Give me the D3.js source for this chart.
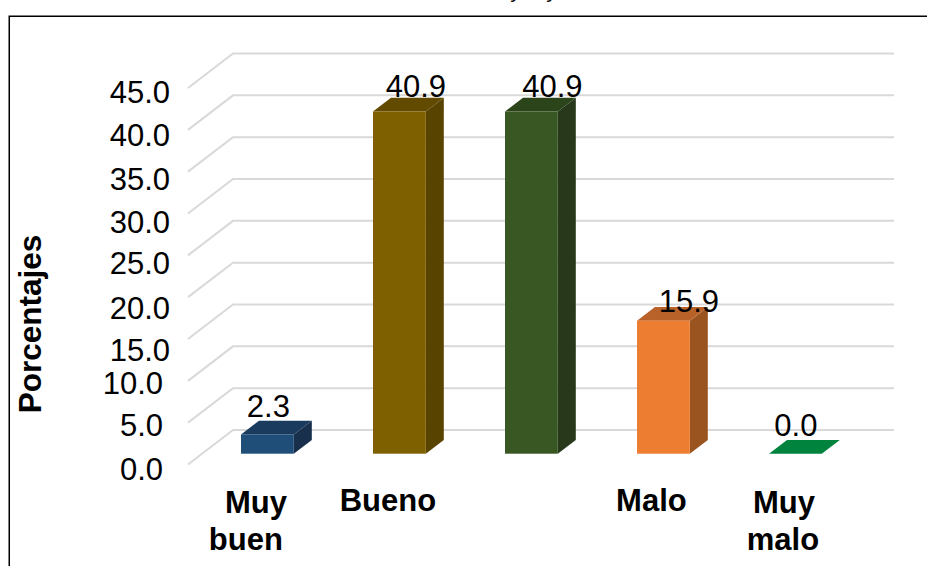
<!DOCTYPE html>
<html>
<head>
<meta charset="utf-8">
<script src="https://cdn.jsdelivr.net/npm/d3@7"></script>
<style>
html,body{margin:0;padding:0;background:#fff;overflow:hidden}
svg{display:block}
text{font-family:"Liberation Sans",Arial,sans-serif;fill:#000}
</style>
</head>
<body>
<svg id="chart" width="927" height="566"></svg>
<script>
const categories = ["Muy buen", "Bueno", "", "Malo", "Muy malo"];
const values = [2.3, 40.9, 40.9, 15.9, 0.0];
const valueLabels = ["2.3", "40.9", "40.9", "15.9", "0.0"];
const tickValues = [0, 5, 10, 15, 20, 25, 30, 35, 40, 45];
const frontColors = ["#1f4e79", "#7f6000", "#385723", "#ed7d31", "#00843d"];
const topColors = ["#1a3b5e", "#624a00", "#2c4419", "#b8622a", "#00843d"];
const sideColors = ["#18304c", "#584300", "#27391a", "#9a5420", "#00843d"];
const yAxisTitle = "Porcentajes";

// Hand-placed offsets seen in the reference
const tickNudgeY = [0, -1.6, -2.4, 6.7, 6.2, 3.3, 4.1, 2.7, 1, 0];
const tickRight = [163, 163, 163, 170, 170, 170, 170, 170, 170, 170];
const valueNudgeX = [1, 16.5, 21, 25.5, 0.5];
const valueBaselineGap = [17.7, 14.2, 14.2, 8.7, 17.7];
const catLineNudgeX = [[-11.5, -21.5], [-11.5], [0], [-12], [-11.5, -12.5]];
const catFirstBaseline = [513.3, 510.7, 510.7, 510.7, 513.3];

const svg = d3.select("#chart");

const x = d3.scaleBand().domain(d3.range(categories.length))
  .range([201.4, 861.4]).paddingInner(0.6).paddingOuter(0.3);
const yBack = d3.scaleLinear().domain([0, 45]).range([430, 53.5]);
const wallDx = 45, wallDy = 34.5, floorGap = 23.7, depthDx = 18, depthDy = 13.7;
const wallX = 233, wallRight = 894;
const yFront = v => yBack(v) + wallDy;
const yBar = v => yBack(v) + floorGap;

// Frame
svg.append("rect").attr("x", 9.25).attr("y", 16.25).attr("width", 1000).attr("height", 1000)
  .attr("fill", "none").attr("stroke", "#000").attr("stroke-width", 1.5);

// Clipped remains of a title above the frame
svg.selectAll("text.cut").data(["y", "y"]).join("text").attr("class", "cut")
  .attr("x", (d, i) => 512 + i * 36).attr("y", -2)
  .attr("font-size", 20).attr("font-style", "italic").text(d => d);

// Gridlines
const grid = svg.append("g").attr("fill", "none").attr("stroke", "#d9d9d9").attr("stroke-width", 2);
grid.selectAll("path").data(tickValues).join("path")
  .attr("d", d => d3.line()([[wallX - wallDx, yFront(d)], [wallX, yBack(d)], [wallRight, yBack(d)]]));

// Bars
const bars = svg.append("g").selectAll("g").data(values).join("g");
const poly = (pts) => pts.map(p => p.join(",")).join(" ");
bars.append("polygon").attr("fill", (d, i) => sideColors[i]).attr("points", (d, i) => {
  const r = x(i) + x.bandwidth(), t = yBar(d), b = yBar(0);
  return poly([[r, t], [r + depthDx, t - depthDy], [r + depthDx, b - depthDy], [r, b]]);
});
bars.append("polygon").attr("fill", (d, i) => topColors[i]).attr("points", (d, i) => {
  const l = x(i), r = l + x.bandwidth(), t = yBar(d);
  return poly([[l, t], [r, t], [r + depthDx, t - depthDy], [l + depthDx, t - depthDy]]);
});
bars.append("rect").attr("fill", (d, i) => frontColors[i])
  .attr("x", (d, i) => x(i)).attr("width", x.bandwidth())
  .attr("y", d => yBar(d)).attr("height", d => yBar(0) - yBar(d));

// Value labels
svg.append("g").selectAll("text").data(values).join("text")
  .attr("font-size", 31).attr("text-anchor", "middle")
  .attr("x", (d, i) => x(i) + x.bandwidth() / 2 + valueNudgeX[i])
  .attr("y", (d, i) => yBar(d) - valueBaselineGap[i])
  .text((d, i) => valueLabels[i]);

// Y axis labels
const axisG = svg.append("g").attr("transform", "translate(170,0)")
  .call(d3.axisLeft(d3.scaleLinear().domain([0, 45]).range([yFront(0), yFront(45)]))
    .tickValues(tickValues).tickSize(0).tickPadding(0).tickFormat(d3.format(".1f")));
axisG.select(".domain").remove();
axisG.selectAll("text")
  .attr("font-family", null).style("font-family", '"Liberation Sans",Arial,sans-serif')
  .style("font-size", "31px").style("fill", "#000")
  .attr("dy", 0)
  .attr("x", d => tickRight[tickValues.indexOf(d)] - 170)
  .attr("y", d => 14.7 + tickNudgeY[tickValues.indexOf(d)]);

// Y axis title
svg.append("text").attr("transform", "translate(41,324) rotate(-90)")
  .attr("text-anchor", "middle").attr("font-size", 31.5).attr("font-weight", "bold").text(yAxisTitle);

// Category labels
const cats = svg.append("g").selectAll("text").data(categories).join("text")
  .attr("font-size", 31).attr("font-weight", "bold").attr("text-anchor", "middle");
cats.each(function (d, i) {
  const cx = x(i) + x.bandwidth() / 2;
  d3.select(this).selectAll("tspan").data(d.split(" ")).join("tspan")
    .attr("x", (w, k) => cx + catLineNudgeX[i][k])
    .attr("y", (w, k) => catFirstBaseline[i] + k * 36.7)
    .text(w => w);
});
</script>
</body>
</html>
